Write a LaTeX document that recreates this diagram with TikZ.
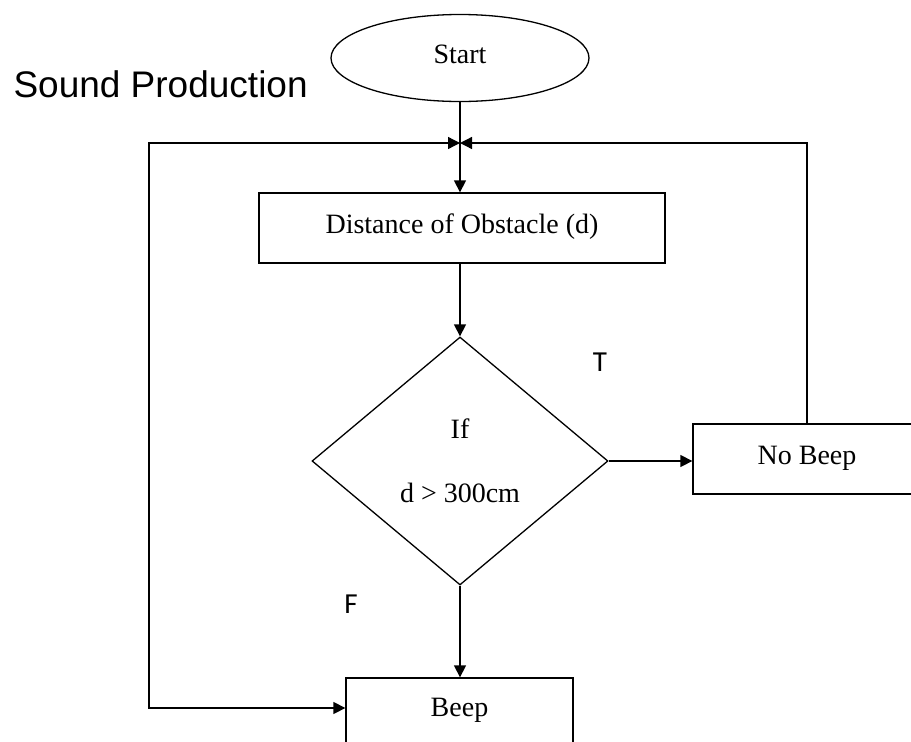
\documentclass[tikz,border=0pt]{standalone}
\usepackage{fontspec}
\setmainfont{Liberation Serif}
\newfontfamily\titlefont{Liberation Sans}
\newfontfamily\markfont{Carlito}
\usetikzlibrary{shapes.geometric,arrows.meta}

\begin{document}
\begin{tikzpicture}[x=1pt,y=-1pt,
  every node/.style={font=\fontsize{28}{34}\selectfont},
  line/.style={line width=1.3pt, draw=black},
  tip/.style={Triangle[length=12pt,width=12pt]},
  arr/.style={line, -{Triangle[length=12pt,width=12pt]}},
  twoarr/.style={line, {Triangle[length=12pt,width=12pt]}-{Triangle[length=12pt,width=12pt]}},
  box/.style={line, rectangle, inner sep=0pt, text height=20pt, text depth=10pt},
  decision/.style={line, diamond, inner sep=0pt, align=center},
  flowmark/.style={font=\markfont\fontsize{29}{34}\selectfont},
]
\useasboundingbox (0,0) rectangle (911,742);
\clip (0,0) rectangle (911,742);

% title
\node[font=\titlefont\fontsize{37}{40}\selectfont, anchor=base west] (title) at (10,97) {Sound Production};

% flow elements
\node[line, ellipse, minimum width=258pt, minimum height=87pt, inner sep=0pt,
      text height=20pt, text depth=10pt] (start) at (460,58) {Start};
\coordinate (j) at (460,143);
\node[box, minimum width=406pt, minimum height=70pt] (dist) at (462,228) {Distance of Obstacle (d)};
\node[decision, minimum width=296pt, minimum height=248pt] (dec) at (460,461) {If\\[30pt]d > 300cm};
\node[box, minimum width=228pt, minimum height=70pt] (nob) at (807,459) {No Beep};
\node[box, minimum width=227pt, minimum height=66pt] (beep) at (459.5,711) {Beep};

% branch marks
\node[flowmark] (tmark) at (600,362) {T};
\node[flowmark] (fmark) at (351,604) {F};

% connectors
\draw[arr] (start.south) -- (start.south |- dist.north);
\draw[arr] (dec.north |- dist.south) -- (dec.north);
\draw[arr] (dec.east) -- (dec.east -| nob.west);
\draw[arr] (dec.south) -- (dec.south |- beep.north);
\draw[arr] (nob.north) |- (j);
\coordinate (bl) at (149,708);
\draw[twoarr] (j) -| (bl) -- (bl -| beep.west);
\end{tikzpicture}
\end{document}
